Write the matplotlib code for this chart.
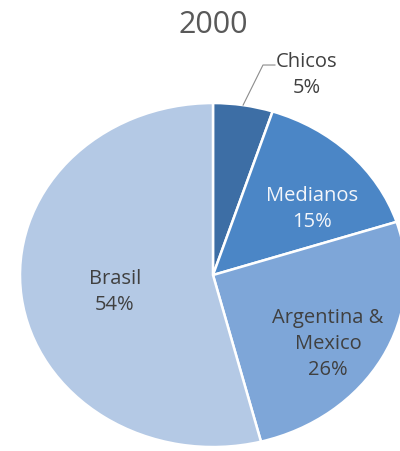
import matplotlib.pyplot as plt

# market share by group, year 2000
groups = ['Chicos', 'Medianos', 'Argentina &\nMexico', 'Brasil']
shares = [5, 15, 26, 54]
colors = ['#3d6ea5', '#4b86c6', '#7ea6d8', '#b4c9e5']
text_colors = ['#404040', '#f4f6fa', '#404040', '#404040']

# label anchor points in axis units (pie radius = 1)
label_xy = [(0.325, 1.163), (0.513, 0.384), (0.596, -0.40), (-0.508, -0.099)]

plt.rcParams['font.family'] = ['Open Sans', 'DejaVu Sans']

fig = plt.figure(figsize=(4.0, 4.51), dpi=100)
ax = fig.add_axes([0, 0, 1, 1])

wedges, _ = ax.pie(shares, colors=colors, startangle=90, counterclock=False,
                   wedgeprops=dict(edgecolor='white', linewidth=1.8))

# stretch the pie into a wide ellipse
ax.set_aspect('auto')
ax.set_xlim(-1.1036, 0.969)
ax.set_ylim(-1.023, 1.599)
ax.axis('off')

for name, val, (x, y), tc in zip(groups, shares, label_xy, text_colors):
    ha = 'left' if name == 'Chicos' else 'center'
    ax.text(x, y, f'{name}\n{val}%', ha=ha, va='center', fontsize=14.5,
            color=tc, linespacing=1.42, multialignment='center')

# leader line for the small slice
ax.plot([0.156, 0.259, 0.321], [0.988, 1.221, 1.221], color='#8c8c8c', lw=0.8)

ax.text(0.0, 1.453, '2000', ha='center', va='center', fontsize=22, color='#595959')

fig.savefig('out.png', dpi=100, facecolor='white')
